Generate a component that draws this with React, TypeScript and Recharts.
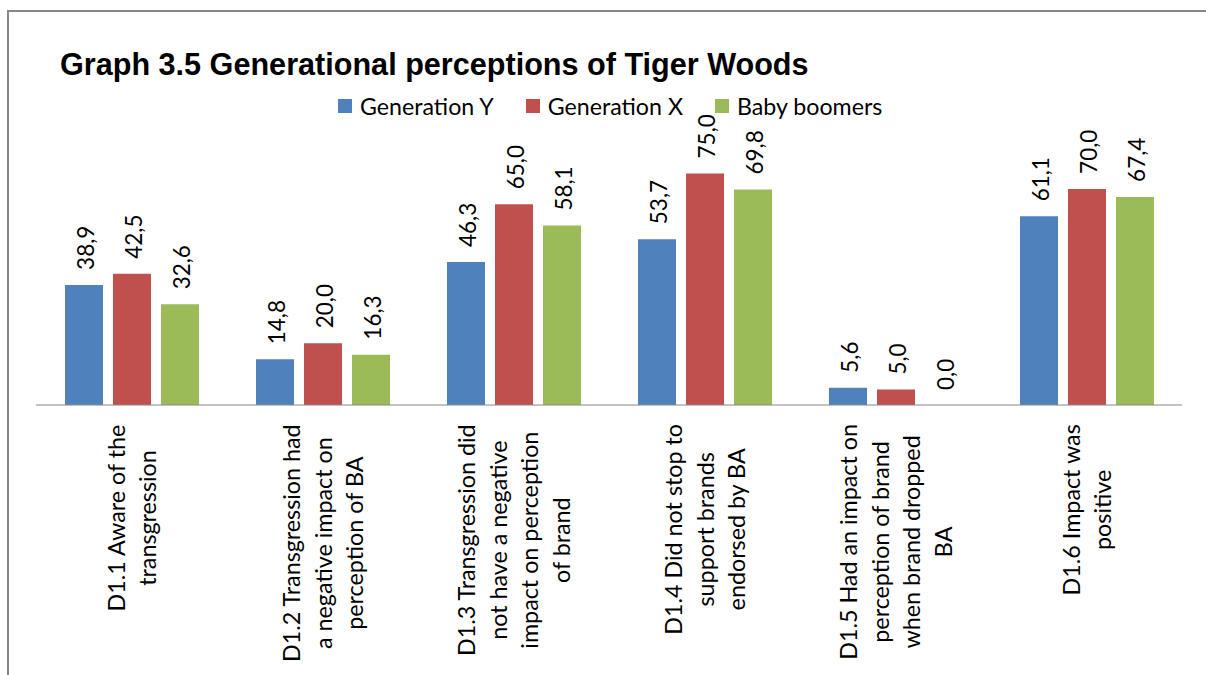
import React from "react";
import { Bar, BarChart, LabelList, Legend, XAxis, YAxis } from "recharts";

const categories = [
  "D1.1 Aware of the\ntransgression",
  "D1.2 Transgression had\na negative impact on\nperception of BA",
  "D1.3 Transgression did\nnot have a negative\nimpact on perception\nof brand",
  "D1.4 Did not stop to\nsupport brands\nendorsed by BA",
  "D1.5 Had an impact on\nperception of brand\nwhen brand dropped\nBA",
  "D1.6 Impact was\npositive",
];

const generationY = [38.9, 14.8, 46.3, 53.7, 5.6, 61.1];
const generationX = [42.5, 20.0, 65.0, 75.0, 5.0, 70.0];
const babyBoomers = [32.6, 16.3, 58.1, 69.8, 0.0, 67.4];

const series = [
  { key: "genY", name: "Generation Y", color: "#4F81BD" },
  { key: "genX", name: "Generation X", color: "#C0504D" },
  { key: "boomers", name: "Baby boomers", color: "#9BBB59" },
];

const data = categories.map((label, i) => ({
  label,
  genY: generationY[i],
  genX: generationX[i],
  boomers: babyBoomers[i],
}));

const FONT = "Lato, 'Open Sans', sans-serif";
const TICK_SIZE = 23.3;
const VALUE_SIZE = 22.5;
const LINE_HEIGHT = 31.5;

let measureCtx: CanvasRenderingContext2D | null = null;
function textWidth(s: string) {
  if (!measureCtx) {
    measureCtx = document.createElement("canvas").getContext("2d");
  }
  if (!measureCtx) return s.length * TICK_SIZE * 0.5;
  measureCtx.font = `${TICK_SIZE}px Lato`;
  return measureCtx.measureText(s).width;
}

// rotated, centred multi-line category label hanging below the axis
function CategoryTick(props: any) {
  const { x, y, payload } = props;
  const lines: string[] = String(payload.value).split("\n");
  const maxW = Math.max(...lines.map(textWidth));
  const n = lines.length;
  return (
    <g transform={`translate(${x},${y + 11}) rotate(-90)`}>
      {lines.map((line, i) => (
        <text
          key={i}
          x={-maxW / 2}
          y={(i - (n - 1) / 2) * LINE_HEIGHT}
          textAnchor="middle"
          dominantBaseline="central"
          fontFamily={FONT}
          fontSize={TICK_SIZE}
          fill="#000"
        >
          {line}
        </text>
      ))}
    </g>
  );
}

function ValueLabel(props: any) {
  const { x, y, width, value } = props;
  const cx = Number(x) + Number(width) / 2 + 1;
  const top = Number(y) - 15;
  return (
    <text
      transform={`translate(${cx},${top}) rotate(-90)`}
      textAnchor="start"
      dominantBaseline="central"
      fontFamily={FONT}
      fontSize={VALUE_SIZE}
      fill="#000"
    >
      {Number(value).toFixed(1).replace(".", ",")}
    </text>
  );
}

function LegendContent() {
  return (
    <div style={{ display: "flex", alignItems: "center", height: 28 }}>
      {series.map((s) => (
        <div key={s.key} style={{ display: "flex", alignItems: "center", marginRight: 32 }}>
          <span style={{ width: 14, height: 14, background: s.color, marginRight: 8 }} />
          <span style={{ fontFamily: FONT, fontSize: 23.2, color: "#000", whiteSpace: "nowrap" }}>
            {s.name}
          </span>
        </div>
      ))}
    </div>
  );
}

export default function App() {
  return (
    <div
      style={{
        position: "absolute",
        left: 0,
        top: 0,
        width: 1206,
        height: 675,
        background: "#fff",
        overflow: "hidden",
      }}
    >
      {/* chart-area frame: only its left and top edges fall inside the view */}
      <div style={{ position: "absolute", left: 7, top: 10, width: 1199, height: 2, background: "#878787" }} />
      <div style={{ position: "absolute", left: 7, top: 10, width: 2, height: 665, background: "#878787" }} />
      <div
        style={{
          position: "absolute",
          left: 60,
          top: 46,
          fontFamily: "'Liberation Sans', Arial, sans-serif",
          fontWeight: "bold",
          fontSize: 30.6,
          lineHeight: "36px",
          color: "#000",
          whiteSpace: "nowrap",
        }}
      >
        Graph 3.5 Generational perceptions of Tiger Woods
      </div>
      <BarChart
        width={1206}
        height={675}
        data={data}
        margin={{ top: 158, right: 24, left: 36, bottom: 0 }}
        barSize={38}
        barGap={10}
        style={{ position: "absolute", left: 0, top: 0 }}
      >
        <XAxis
          dataKey="label"
          height={270}
          interval={0}
          tickLine={false}
          axisLine={{ stroke: "#868686", strokeWidth: 1 }}
          tick={<CategoryTick />}
        />
        <YAxis hide domain={[0, 80]} />
        <Legend
          verticalAlign="middle"
          align="center"
          content={<LegendContent />}
          wrapperStyle={{ left: 338, top: 92, width: "auto" }}
        />
        {series.map((s) => (
          <Bar
            key={s.key}
            dataKey={s.key}
            name={s.name}
            fill={s.color}
            minPointSize={0.01}
            isAnimationActive={false}
          >
            <LabelList dataKey={s.key} content={<ValueLabel />} />
          </Bar>
        ))}
      </BarChart>
    </div>
  );
}
